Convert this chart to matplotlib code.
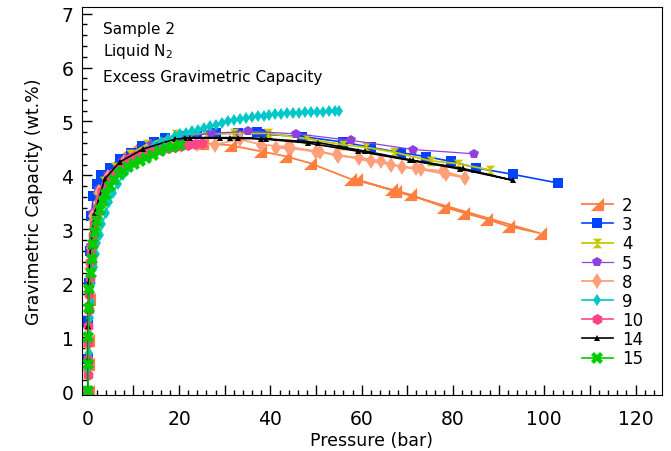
import matplotlib
matplotlib.use("Agg")
import matplotlib.pyplot as plt
from matplotlib.ticker import MultipleLocator, FuncFormatter

# Excess gravimetric capacity, sample 2, liquid N2
p2 = [0.0, 0.05, 0.1, 0.2, 0.4, 0.8, 1.5, 2.5, 3.3, 5.0, 7.0, 9.2, 12.5, 16.0, 20.0, 25.0,
      31.1, 37.7, 43.1, 48.6, 57.4, 66.5, 70.5, 77.8, 82.2, 87.3, 92.0, 99.0, 67.2, 58.8]
v2 = [0.0, 0.5, 0.95, 1.7, 2.4, 2.8, 3.3, 3.7, 3.93, 4.15, 4.35, 4.48, 4.55, 4.6, 4.62, 4.6,
      4.56, 4.45, 4.36, 4.23, 3.94, 3.74, 3.65, 3.42, 3.31, 3.19, 3.06, 2.93, 3.71, 3.93]

p3 = [0.0, 0.05, 0.15, 0.3, 0.5, 0.8, 1.2, 2.0, 3.0, 4.8, 7.0, 9.5, 11.8, 14.5, 16.9, 20.0,
      24.0, 28.0, 33.0, 37.0, 39.1, 47.0, 55.9, 62.0, 68.7, 74.0, 79.6, 85.1, 93.1, 103.0]
v3 = [0.0, 0.6, 1.3, 2.0, 2.6, 3.25, 3.62, 3.85, 4.0, 4.14, 4.3, 4.42, 4.54, 4.62, 4.70, 4.73,
      4.76, 4.78, 4.78, 4.80, 4.76, 4.72, 4.62, 4.52, 4.42, 4.35, 4.26, 4.14, 4.02, 3.86]

p4 = [0.0, 0.1, 0.3, 0.6, 1.0, 2.0, 3.5, 6.0, 9.2, 13.0, 19.4, 26.0, 32.0, 39.5, 48.0, 55.9,
      61.0, 67.1, 75.2, 81.0, 88.2]
v4 = [0.0, 0.8, 1.8, 2.6, 3.1, 3.6, 3.9, 4.15, 4.39, 4.58, 4.76, 4.77, 4.78, 4.78, 4.68, 4.57,
      4.52, 4.43, 4.27, 4.22, 4.10]

p5 = [0.0, 0.1, 0.3, 0.6, 1.2, 2.5, 4.5, 7.7, 13.9, 20.8, 27.0, 35.1, 45.7, 57.7, 71.3, 84.7]
v5 = [0.0, 0.9, 1.9, 2.7, 3.3, 3.75, 4.0, 4.26, 4.57, 4.72, 4.78, 4.82, 4.77, 4.65, 4.48, 4.40]

p8 = [0.0, 0.1, 0.3, 0.6, 1.2, 2.5, 4.5, 8.0, 13.0, 19.0, 24.0, 27.8, 33.3, 38.0, 43.9, 50.8,
      54.9, 59.5, 64.2, 68.9, 73.0, 77.9, 82.6, 78.5, 72.0, 66.5, 62.0, 54.5, 50.0, 44.5, 41.3]
v8 = [0.0, 0.85, 1.85, 2.65, 3.25, 3.7, 3.98, 4.25, 4.45, 4.55, 4.58, 4.57, 4.67, 4.57, 4.53, 4.44,
      4.36, 4.33, 4.27, 4.15, 4.12, 4.08, 3.96, 4.02, 4.13, 4.2, 4.26, 4.39, 4.44, 4.5, 4.51]

p9 = [0.0, 0.1, 0.2, 0.35, 0.5, 0.7, 1.0, 1.3, 1.7, 2.1, 2.6, 3.2, 3.9, 4.7, 5.6, 6.6, 7.7,
      8.9, 10.2, 11.6, 13.0, 14.5, 16.0, 17.5, 19.0, 20.3, 21.6, 22.9, 24.2, 25.5, 26.8, 28.1,
      29.4, 30.7, 32.0, 33.3, 34.6, 35.9, 37.2, 38.5, 39.8, 41.1, 42.4, 43.7, 45.0, 46.3, 47.6,
      48.9, 50.2, 51.5, 52.8, 54.1, 55.0]
v9 = [0.0, 0.35, 0.7, 1.05, 1.35, 1.65, 2.0, 2.3, 2.55, 2.75, 2.9, 3.1, 3.3, 3.5, 3.68, 3.85, 4.0,
      4.13, 4.25, 4.37, 4.46, 4.55, 4.62, 4.68, 4.73, 4.76, 4.79, 4.82, 4.85, 4.88, 4.91, 4.94,
      4.97, 5.0, 5.02, 5.04, 5.06, 5.08, 5.10, 5.11, 5.12, 5.13, 5.14, 5.15, 5.16, 5.165, 5.17,
      5.175, 5.18, 5.185, 5.19, 5.195, 5.2]

p10 = [0.0, 0.0, 0.05, 0.1, 0.15, 0.2, 0.3, 0.4, 0.55, 0.7, 0.9, 1.1, 1.4, 1.7, 2.1, 2.6, 3.2,
       3.9, 4.7, 5.6, 6.6, 7.7, 8.9, 10.2, 11.6, 13.0, 14.5, 16.0, 17.5, 19.0, 20.5, 22.0, 23.5, 25.0]
v10 = [0.0, 0.3, 0.6, 0.9, 1.2, 1.5, 1.8, 2.1, 2.4, 2.55, 2.7, 2.9, 3.1, 3.25, 3.42, 3.58, 3.72,
       3.85, 3.95, 4.05, 4.14, 4.22, 4.3, 4.36, 4.40, 4.43, 4.46, 4.48, 4.5, 4.52, 4.54, 4.56, 4.58, 4.6]

p14 = [0.0, 0.05, 0.1, 0.2, 0.6, 1.5, 3.7, 7.0, 12.1, 19.0, 22.3, 31.1, 33.0, 39.1, 50.4, 60.7,
       71.2, 82.1, 93.1, 81.5, 70.5, 59.1, 48.2, 38.0, 29.0, 21.2]
v14 = [0.0, 0.6, 1.2, 2.02, 2.7, 3.3, 3.93, 4.25, 4.49, 4.67, 4.70, 4.70, 4.70, 4.68, 4.61, 4.45,
       4.28, 4.13, 3.91, 4.12, 4.28, 4.45, 4.60, 4.68, 4.69, 4.70]

p15 = [0.05, 0.08, 0.12, 0.18, 0.3, 0.6, 0.9, 1.2, 1.6, 2.1, 2.7, 3.3, 4.0, 4.8, 5.8, 6.8, 7.7,
       8.9, 10.1, 11.4, 12.8, 14.3, 15.8, 17.3, 18.7, 20.1]
v15 = [0.0, 0.5, 1.0, 1.55, 1.9, 2.2, 2.45, 2.72, 2.95, 3.15, 3.35, 3.52, 3.66, 3.80, 3.92, 4.02,
       4.08, 4.15, 4.21, 4.26, 4.32, 4.38, 4.45, 4.5, 4.53, 4.56]

# custom marker shapes
corner_tri = [(-1, -1), (1, -1), (1, 1), (-1, -1)]
hourglass = [(-1, 1), (1, 1), (0, 0), (1, -1), (-1, -1), (0, 0), (-1, 1)]

series = [
    ("2", p2, v2, "#FF7F40", corner_tri, 9.5, 1.3),
    ("3", p3, v3, "#0044FF", "s", 7, 1.2),
    ("4", p4, v4, "#C8C800", hourglass, 7, 1.3),
    ("5", p5, v5, "#9040E0", "p", 7.5, 0.9),
    ("8", p8, v8, "#FFA07A", "d", 8, 1.3),
    ("9", p9, v9, "#00C8C8", "d", 6, 1.2),
    ("10", p10, v10, "#FF4488", "h", 8, 1.2),
    ("14", p14, v14, "black", "^", 5, 1.2),
    ("15", p15, v15, "#00CC00", "X", 8, 1.2),
]

plt.rcParams["font.family"] = "DejaVu Sans"

fig = plt.figure(figsize=(6.71, 4.52), dpi=100)
ax = fig.add_axes([0.122, 0.124, 0.864, 0.858])

for label, p, v, color, marker, ms, lw in series:
    ax.plot(p, v, color=color, marker=marker, markersize=ms, linewidth=lw,
            markeredgewidth=0, label=label)

ax.set_xlim(-1.3, 125.7)
ax.set_ylim(-0.07, 7.12)

ax.xaxis.set_major_locator(MultipleLocator(10))
ax.xaxis.set_minor_locator(MultipleLocator(2))
ax.xaxis.set_major_formatter(FuncFormatter(lambda x, pos: f"{x:.0f}" if round(x) % 20 == 0 else ""))
ax.yaxis.set_major_locator(MultipleLocator(1))
ax.yaxis.set_minor_locator(MultipleLocator(0.2))

ax.tick_params(which="both", direction="in", top=False, right=False, labelsize=13.5)
ax.tick_params(which="major", length=7, width=1)
ax.tick_params(which="minor", length=3.5, width=1)
ax.tick_params(axis="x", pad=10)
ax.tick_params(axis="y", pad=6)

ax.set_xlabel("Pressure (bar)", fontsize=12.5, labelpad=2)
ax.set_ylabel("Gravimetric Capacity (wt.%)", fontsize=12.5, labelpad=13)

ax.text(0.036, 0.946, "Sample 2", transform=ax.transAxes, fontsize=11, va="center")
ax.text(0.036, 0.887, "Liquid N$_2$", transform=ax.transAxes, fontsize=11, va="center")
ax.text(0.036, 0.822, "Excess Gravimetric Capacity", transform=ax.transAxes, fontsize=11, va="center")

ax.legend(loc="upper left", bbox_to_anchor=(0.867, 0.564), bbox_transform=fig.transFigure,
          frameon=False, fontsize=12, numpoints=1, handlelength=1.86, handletextpad=0.55,
          labelspacing=0.07, borderpad=0, borderaxespad=0)

fig.savefig("out.png", dpi=100)
